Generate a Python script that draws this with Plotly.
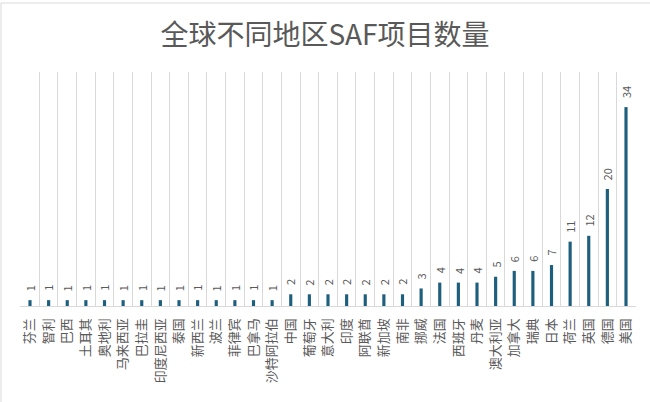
import plotly.graph_objects as go

countries = [
    "芬兰", "智利", "巴西", "土耳其", "奥地利", "马来西亚", "巴拉圭", "印度尼西亚",
    "泰国", "新西兰", "波兰", "菲律宾", "巴拿马", "沙特阿拉伯", "中国", "葡萄牙",
    "意大利", "印度", "阿联酋", "新加坡", "南非", "挪威", "法国", "西班牙", "丹麦",
    "澳大利亚", "加拿大", "瑞典", "日本", "荷兰", "英国", "德国", "美国",
]
project_counts = [
    1, 1, 1, 1, 1, 1, 1, 1, 1, 1, 1, 1, 1, 1, 2, 2,
    2, 2, 2, 2, 2, 3, 4, 4, 4,
    5, 6, 6, 7, 11, 12, 20, 34,
]

BAR_COLOR = "#1f5f7e"
TEXT_GREY = "#595959"
FONT = "Noto Sans CJK SC"

fig = go.Figure(
    go.Bar(
        x=countries,
        y=project_counts,
        width=0.17,
        marker=dict(color=BAR_COLOR, line=dict(width=0)),
        hoverinfo="x+y",
    )
)

# value labels sit a little above each bar, rotated like the axis text
for name, count in zip(countries, project_counts):
    fig.add_annotation(
        x=name,
        y=count,
        text=str(count),
        textangle=-90,
        showarrow=False,
        xanchor="center",
        yanchor="bottom",
        yshift=7,
        font=dict(family=FONT, size=11, color=TEXT_GREY),
    )

fig.update_layout(
    width=650,
    height=402,
    margin=dict(l=20, r=14, t=72, b=96),
    paper_bgcolor="white",
    plot_bgcolor="white",
    showlegend=False,
    title=dict(
        text="全球不同地区SAF项目数量",
        x=0.5,
        xanchor="center",
        y=0.912,
        yanchor="middle",
        font=dict(family=FONT, size=28, color=TEXT_GREY),
    ),
    font=dict(family=FONT, color=TEXT_GREY),
    shapes=[
        dict(
            type="rect", xref="paper", yref="paper",
            x0=-19 / 616, x1=1.2, y0=-1.0, y1=1 + 69 / 234,
            line=dict(color="#d9d9d9", width=1),
            layer="below",
        )
    ],
)

fig.update_xaxes(
    type="category",
    tickson="boundaries",
    showgrid=True,
    gridcolor="#d9d9d9",
    gridwidth=1,
    showline=True,
    linecolor="#d9d9d9",
    ticks="",
    tickangle=-90,
    ticklabelstandoff=6,
    tickfont=dict(family=FONT, size=13, color=TEXT_GREY),
)

fig.update_yaxes(
    range=[0, 40],
    showgrid=False,
    showticklabels=False,
    zeroline=False,
    showline=False,
    ticks="",
)

# the page body has a default 8px margin; drop it so the 650x402 figure sits at the origin
fig.write_html(
    "out.html",
    config={"displayModeBar": False},
    post_script="document.body.style.margin = '0';",
)
